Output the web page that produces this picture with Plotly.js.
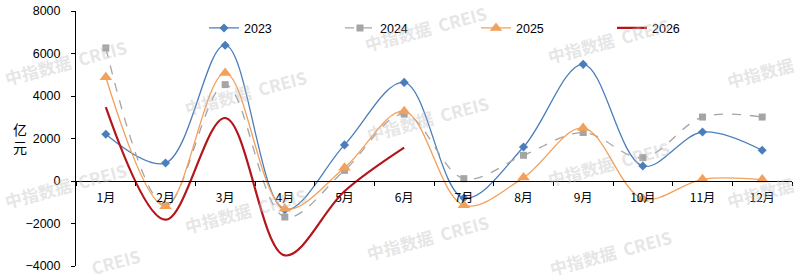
<!DOCTYPE html>
<html>
<head>
<meta charset="utf-8">
<script src="https://cdn.plot.ly/plotly-3.0.1.min.js"></script>
<style>
html,body{margin:0;padding:0;background:#fff;}
#chart{width:802px;height:280px;}
</style>
</head>
<body>
<div id="chart"></div>
<script>
var months = ["1月","2月","3月","4月","5月","6月","7月","8月","9月","10月","11月","12月"];
var months2026 = ["1月","2月","3月","4月","5月","6月"];
var v2023 = [2200, 850, 6390, -1350, 1700, 4640, -800, 1600, 5490, 705, 2306, 1445];
var v2024 = [6260, -1150, 4536, -1694, 500, 3150, 110, 1210, 2280, 1100, 3010, 3010];
var v2025 = [4880, -1190, 5080, -1300, 620, 3280, -1145, 160, 2494, -830, 80, 65];
var v2026 = [3480, -1820, 2965, -3500, -480, 1570];
var yTicks = [-4000, -2000, 0, 2000, 4000, 6000, 8000];
var unitLabel = "亿<br>元";
var watermark = "中指数据  CREIS";
var watermarkShort = "中指数据";
var watermarkTail = "CREIS";

var traces = [
  {x: months, y: v2023, name: "2023", type: "scatter", mode: "lines+markers",
   line: {color: "#4a7ebb", width: 1.3, shape: "spline", smoothing: 1},
   marker: {symbol: "diamond", size: 7, color: "#4a7ebb"}},
  {x: months, y: v2024, name: "2024", type: "scatter", mode: "lines+markers",
   line: {color: "#a5a5a5", width: 1.3, dash: "dash", shape: "spline", smoothing: 1},
   marker: {symbol: "square", size: 7, color: "#a5a5a5"}},
  {x: months, y: v2025, name: "2025", type: "scatter", mode: "lines+markers",
   line: {color: "#f2a05a", width: 1.3, shape: "spline", smoothing: 1},
   marker: {symbol: "triangle-up", size: 11, color: "#f2a05a"}},
  {x: months2026, y: v2026, name: "2026", type: "scatter", mode: "lines",
   line: {color: "#b3151b", width: 2.2, shape: "spline", smoothing: 1}}
];

var wmPos = [
  [65,62,watermark],[245,92,watermark],[425,28,watermark],[427,118,watermark],
  [608,40,watermark],[608,163,watermark],[760,72,watermarkShort],[760,192,watermarkShort],
  [65,185,watermark],[245,210,watermark],[427,237,watermark],[610,252,watermark],[115,261,watermarkTail]];
var annotations = wmPos.map(function(p){
  return {xref: "paper", yref: "paper", x: (p[0]-76)/716, y: (265.7-p[1])/255,
    text: p[2], showarrow: false, textangle: -15,
    font: {family: "Noto Sans CJK SC, Liberation Sans, sans-serif", size: 17, color: "rgba(190,190,190,0.4)", weight: "bold"},
    xanchor: "center", yanchor: "middle"};
});
annotations.push({xref: "paper", yref: "paper", x: (20-76)/716, y: (265.7-138)/255,
  text: unitLabel, showarrow: false, xanchor: "center", yanchor: "middle",
  font: {family: "Noto Sans CJK SC, sans-serif", size: 14, color: "#000"}});

var layout = {
  width: 802, height: 280,
  margin: {l: 76, r: 10, t: 10.7, b: 14.3, pad: 0, autoexpand: false},
  paper_bgcolor: "#fff", plot_bgcolor: "#fff",
  font: {family: "Liberation Sans, Arial, sans-serif", size: 12.5, color: "#000"},
  showlegend: true,
  legend: {orientation: "h", x: (204-76)/716, xanchor: "left", y: (265.7-28)/255, yanchor: "middle",
    entrywidth: 91, entrywidthmode: "pixels", bgcolor: "rgba(0,0,0,0)", borderwidth: 0,
    font: {size: 12.5, family: "Liberation Sans, Arial, sans-serif"}, itemclick: false},
  xaxis: {type: "category", anchor: "free", position: 4000/12000, tickson: "boundaries",
    ticks: "outside", ticklen: 4, tickcolor: "#000", showline: true, linecolor: "#000", linewidth: 1,
    showgrid: false, zeroline: false, range: [-0.5, 11.5], fixedrange: true, ticklabelstandoff: 6,
    tickfont: {family: "Noto Sans CJK SC, Liberation Sans, sans-serif", size: 12}},
  yaxis: {range: [-4000, 8000], tickvals: yTicks, ticks: "outside", ticklen: 4, tickcolor: "#000",
    showline: true, linecolor: "#000", linewidth: 1, showgrid: false, zeroline: false,
    ticklabelstandoff: 8, fixedrange: true},
  annotations: annotations
};

Plotly.newPlot("chart", traces, layout, {displayModeBar: false, staticPlot: true});
</script>
</body>
</html>
